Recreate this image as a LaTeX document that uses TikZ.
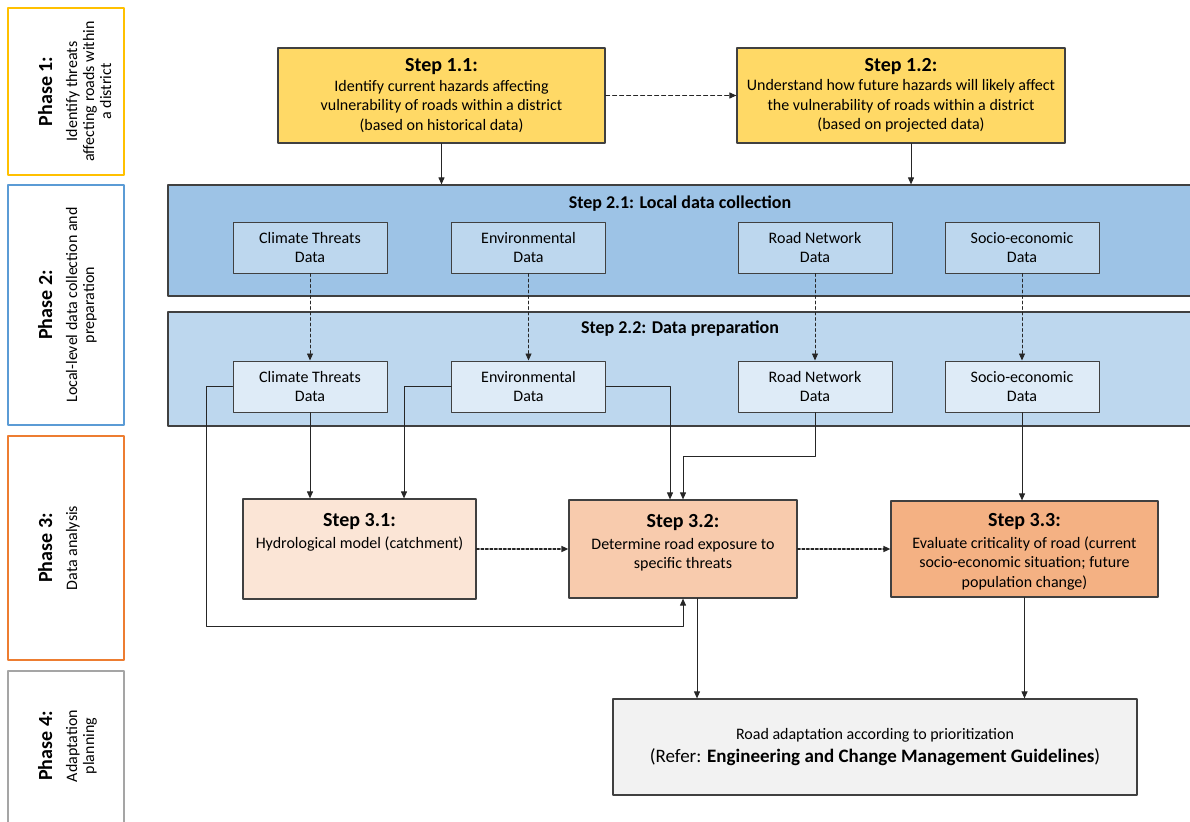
\documentclass[tikz,border=0pt]{standalone}
\usepackage{fontspec}
\setmainfont{Carlito}
\usetikzlibrary{arrows.meta,positioning,calc}

\begin{document}
\begin{tikzpicture}[x=1pt,y=-1pt,line cap=round,line join=round,
  font=\fontsize{16}{19.5}\selectfont,
  phasebox/.style={draw=#1,line width=2pt,inner sep=0pt},
  phasetext/.style={rotate=90,anchor=north,align=center,inner sep=0pt,
    font=\fontsize{16}{17}\selectfont},
  stepbox/.style={draw=boxedge,line width=1.2pt,fill=#1,inner sep=0pt,align=center},
  steptext/.style={align=center,inner sep=0pt,anchor=north},
  band/.style={draw=boxedge,line width=1.2pt,fill=#1,inner sep=0pt},
  bandtitle/.style={font=\fontsize{18}{22}\selectfont\bfseries},
  databox/.style={draw=boxedge,line width=1pt,fill=#1,minimum width=154pt,
    minimum height=51pt,inner sep=0pt,align=center},
  flow/.style={draw=lineclr,line width=1pt,-{Triangle[length=7pt,width=6pt]}},
  dashflow/.style={flow,dash pattern=on 3pt off 2.5pt,line width=0.8pt},
  dotflow/.style={flow,dash pattern=on 2.5pt off 2pt,line width=1.5pt}]
\definecolor{phaseone}{HTML}{FFC000}
\definecolor{phasetwo}{HTML}{5B9BD5}
\definecolor{phasethree}{HTML}{ED7D31}
\definecolor{phasefour}{HTML}{A5A5A5}
\definecolor{boxedge}{HTML}{404040}
\definecolor{lineclr}{HTML}{262626}
\definecolor{stepone}{HTML}{FFD966}
\definecolor{bandone}{HTML}{9DC3E6}
\definecolor{bandtwo}{HTML}{BDD7EE}
\definecolor{datadark}{HTML}{BDD7EE}
\definecolor{datalight}{HTML}{DEEBF7}
\definecolor{stepthreea}{HTML}{FBE5D6}
\definecolor{stepthreeb}{HTML}{F8CBAD}
\definecolor{stepthreec}{HTML}{F4B183}
\definecolor{adaptfill}{HTML}{F2F2F2}

\path[use as bounding box] (0,0) rectangle (1190,821);

% phase column
\node[phasebox=phaseone,minimum width=116pt,minimum height=167pt] (ph1) at (66,91.5) {};
\node[phasebox=phasetwo,minimum width=116pt,minimum height=240pt] (ph2) at (66,305) {};
\node[phasebox=phasethree,minimum width=116pt,minimum height=224pt] (ph3) at (66,548) {};
\node[phasebox=phasefour,minimum width=116pt,minimum height=154pt] (ph4) at (66,748) {};
\node[phasetext] (ph1txt) at (38,91.5)
  {{\fontsize{20}{24}\selectfont\bfseries Phase 1:}\\[8pt]Identify threats\\affecting roads within\\a district};
\node[phasetext] (ph2txt) at (38,305)
  {{\fontsize{20}{24}\selectfont\bfseries Phase 2:}\\[8pt]Local-level data collection and\\preparation};
\node[phasetext] (ph3txt) at (38,548)
  {{\fontsize{20}{24}\selectfont\bfseries Phase 3:}\\[8pt]Data analysis};
\node[phasetext] (ph4txt) at (38,746)
  {{\fontsize{20}{24}\selectfont\bfseries Phase 4:}\\[8pt]Adaptation\\planning};

% step 1
\node[stepbox=stepone,minimum width=327pt,minimum height=95pt] (s11) at (441.5,95.5)
  {{\fontsize{20}{24}\selectfont\bfseries Step 1.1:}\\Identify current hazards affecting\\vulnerability of roads within a district\\(based on historical data)};
\node[stepbox=stepone,minimum width=328pt,minimum height=95pt] (s12) at (901,95.5)
  {{\fontsize{20}{24}\selectfont\bfseries Step 1.2:}\\Understand how future hazards will likely affect\\the vulnerability of roads within a district\\(based on projected data)};
\draw[flow,dash pattern=on 4pt off 3pt] (s11.east) -- (s12.west);

% step 2 bands
\node[band=bandone,minimum width=1032pt,minimum height=111pt] (b21) at (684,240.5) {};
\node[band=bandtwo,minimum width=1032pt,minimum height=114pt] (b22) at (684,369) {};
\node[bandtitle] (b21title) at (680,204) {Step 2.1: Local data collection};
\node[bandtitle] (b22title) at (680,329) {Step 2.2: Data preparation};

\draw[flow] (s11.south) -- (s11.south |- b21.north);
\coordinate (s12out) at ([xshift=10pt]s12.south);
\draw[flow] (s12out) -- (s12out |- b21.north);

\foreach \name/\x/\txt in {ct/310/Climate Threats,env/528.5/Environmental,
    road/815/Road Network,socio/1022/Socio-economic} {
  \node[databox=datadark] (\name1) at (\x,247.5) {\txt\\Data};
  \node[databox=datalight] (\name2) at (\x,386.5) {\txt\\Data};
  \draw[dashflow] (\name1) -- (\name2);
}

% step 3
\node[stepbox=stepthreea,minimum width=233pt,minimum height=100pt] (s31) at (359.5,549) {};
\node[stepbox=stepthreeb,minimum width=228pt,minimum height=98pt] (s32) at (683,549) {};
\node[stepbox=stepthreec,minimum width=267pt,minimum height=96pt] (s33) at (1024.5,549) {};
\node[steptext,below=15pt of s31.north] (s31txt)
  {{\fontsize{20}{24}\selectfont\bfseries Step 3.1:}\\[2pt]Hydrological model (catchment)};
\node[steptext,below=15pt of s32.north] (s32txt)
  {{\fontsize{20}{24}\selectfont\bfseries Step 3.2:}\\[2pt]Determine road exposure to\\specific threats};
\node[steptext,below=13pt of s33.north] (s33txt)
  {{\fontsize{20}{24}\selectfont\bfseries Step 3.3:}\\[2pt]Evaluate criticality of road (current\\socio-economic situation; future\\population change)};
\draw[dotflow] (s31.east) -- (s32.west);
\draw[dotflow] (s32.east) -- (s33.west);

\draw[flow] (ct2.south) -- (ct2.south |- s31.north);
\draw[flow] (env2.west) -| ($(s31.north)+(44.5,0)$);
\draw[flow] (env2.east) -| ($(s32.north)+(-13,0)$);
\draw[flow] (road2.south) -- ++(0,44) -| (s32.north);
\draw[flow] (socio2.south) -- (socio2.south |- s33.north);
\draw[flow] (ct2.west) -- ++(-26,0) -- ++(0,239.5) -| (s32.south);

% phase 4
\node[stepbox=adaptfill,minimum width=524pt,minimum height=96pt] (p4) at (875,747)
  {Road adaptation according to prioritization\\[3pt]
   {\fontsize{19}{23}\selectfont(Refer: \textbf{Engineering and Change Management Guidelines})}};
\coordinate (s32out) at ([xshift=14pt]s32.south);
\draw[flow] (s32out) -- (s32out |- p4.north);
\draw[flow] (s33.south) -- (s33.south |- p4.north);
\end{tikzpicture}
\end{document}
